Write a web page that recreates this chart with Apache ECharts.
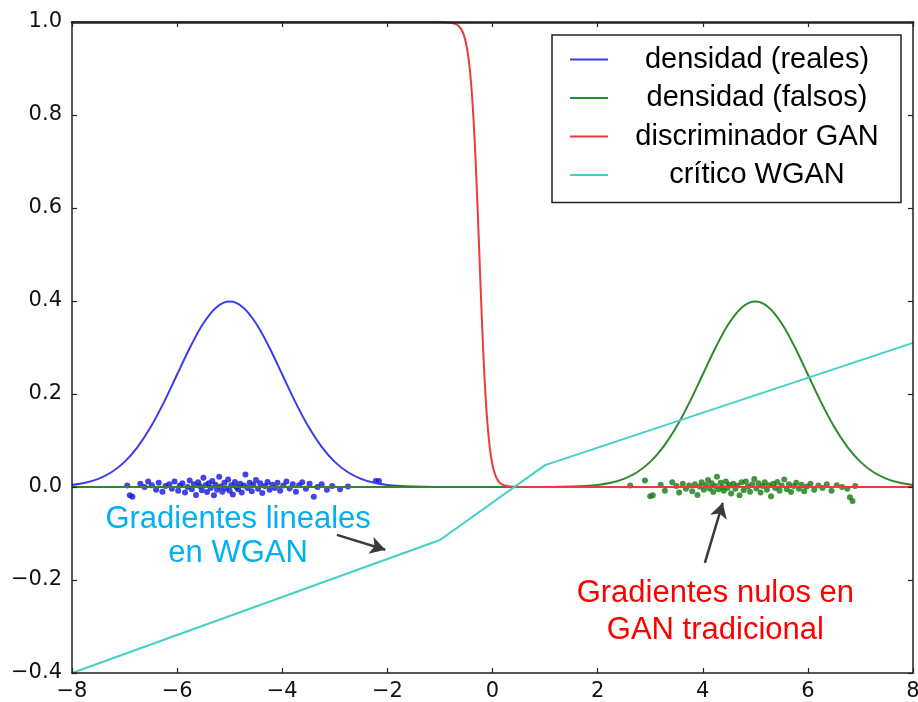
<!DOCTYPE html>
<html>
<head>
<meta charset="utf-8">
<title>GAN vs WGAN</title>
<script src="https://cdn.jsdelivr.net/npm/echarts@6/dist/echarts.min.js"></script>
<style>
  html, body { margin: 0; padding: 0; background: #fff; }
  #chart { width: 918px; height: 702px; }
</style>
</head>
<body>
<div id="chart"></div>
<script>
// ---------------------------------------------------------------------------
// Data
// ---------------------------------------------------------------------------

const seriesNames = ['densidad (reales)', 'densidad (falsos)', 'discriminador GAN', 'crítico WGAN'];

// Density of the real samples (bell centred at -5)
const realDensity = [
  [-8, 0.0044], [-7.75, 0.0091], [-7.5, 0.0175], [-7.25, 0.0317], [-7, 0.054],
  [-6.75, 0.0863], [-6.5, 0.1295], [-6.25, 0.1826], [-6, 0.242], [-5.75, 0.3011],
  [-5.5, 0.3521], [-5.25, 0.3867], [-5, 0.3989], [-4.75, 0.3867], [-4.5, 0.3521],
  [-4.25, 0.3011], [-4, 0.242], [-3.75, 0.1826], [-3.5, 0.1295], [-3.25, 0.0863],
  [-3, 0.054], [-2.75, 0.0317], [-2.5, 0.0175], [-2.25, 0.0091], [-2, 0.0044],
  [-1.75, 0.002], [-1.5, 0.0009], [-1.25, 0.0004], [-1, 0.0001], [-0.75, 0],
  [-0.5, 0], [0, 0], [1, 0], [2, 0], [4, 0], [6, 0], [8, 0]
];

// Density of the fake samples (bell centred at +5)
const fakeDensity = [
  [-8, 0], [-6, 0], [-4, 0], [-2, 0], [-1, 0], [0, 0], [0.5, 0], [0.75, 0],
  [1, 0.0001], [1.25, 0.0004], [1.5, 0.0009], [1.75, 0.002],
  [2, 0.0044], [2.25, 0.0091], [2.5, 0.0175], [2.75, 0.0317], [3, 0.054],
  [3.25, 0.0863], [3.5, 0.1295], [3.75, 0.1826], [4, 0.242], [4.25, 0.3011],
  [4.5, 0.3521], [4.75, 0.3867], [5, 0.3989], [5.25, 0.3867], [5.5, 0.3521],
  [5.75, 0.3011], [6, 0.242], [6.25, 0.1826], [6.5, 0.1295], [6.75, 0.0863],
  [7, 0.054], [7.25, 0.0317], [7.5, 0.0175], [7.75, 0.0091], [8, 0.0044]
];

// GAN discriminator output (steep drop near x = -0.25)
const ganDiscriminator = [
  [-8, 1], [-6, 1], [-4, 1], [-2, 1], [-1.5, 1], [-1, 0.9999], [-0.9, 0.9996],
  [-0.8, 0.9986], [-0.7, 0.9955], [-0.65, 0.9918], [-0.6, 0.9852], [-0.55, 0.9734],
  [-0.5, 0.9526], [-0.45, 0.9168], [-0.4, 0.8581], [-0.35, 0.7685], [-0.3, 0.6457],
  [-0.25, 0.5], [-0.2, 0.3543], [-0.15, 0.2315], [-0.1, 0.1419], [-0.05, 0.0832],
  [0, 0.0474], [0.05, 0.0266], [0.1, 0.0148], [0.15, 0.0082], [0.2, 0.0045],
  [0.3, 0.0014], [0.4, 0.0004], [0.5, 0.0001], [0.75, 0], [1, 0], [2, 0],
  [4, 0], [6, 0], [8, 0]
];

// WGAN critic (piecewise linear)
const wganCritic = [[-8, -0.4], [-1, -0.114], [1, 0.047], [8, 0.31]];

// Sample points scattered around y = 0
const realSamples = [
  [-6.95, 0.003], [-6.9, -0.018], [-6.85, -0.021], [-6.7, 0.007], [-6.62, 0.0],
  [-6.55, 0.012], [-6.48, 0.004], [-6.4, -0.006], [-6.35, 0.009], [-6.28, -0.01],
  [-6.22, 0.002], [-6.15, 0.006], [-6.1, -0.004], [-6.05, 0.012], [-5.98, -0.008],
  [-5.95, 0.003], [-5.9, 0.008], [-5.85, -0.012], [-5.8, 0.0], [-5.76, 0.014],
  [-5.72, -0.005], [-5.68, 0.006], [-5.64, -0.017], [-5.6, 0.01], [-5.57, 0.002],
  [-5.53, -0.007], [-5.5, 0.02], [-5.46, 0.004], [-5.43, -0.011], [-5.4, 0.008],
  [-5.36, -0.002], [-5.33, 0.013], [-5.3, -0.018], [-5.27, 0.005], [-5.24, -0.006],
  [-5.2, 0.022], [-5.17, 0.001], [-5.14, -0.01], [-5.1, 0.009], [-5.07, -0.003],
  [-5.03, 0.016], [-5.0, -0.008], [-4.97, 0.004], [-4.94, -0.016], [-4.9, 0.011],
  [-4.87, 0.0], [-4.84, -0.005], [-4.8, 0.007], [-4.77, -0.012], [-4.73, 0.003],
  [-4.7, 0.027], [-4.66, -0.002], [-4.62, 0.009], [-4.58, -0.009], [-4.55, 0.005],
  [-4.5, 0.015], [-4.46, -0.004], [-4.42, 0.008], [-4.38, -0.013], [-4.33, 0.002],
  [-4.28, 0.011], [-4.24, -0.006], [-4.19, 0.005], [-4.14, -0.002], [-4.09, 0.009],
  [-4.04, -0.008], [-3.98, 0.003], [-3.92, 0.012], [-3.86, -0.003], [-3.8, 0.006],
  [-3.74, -0.01], [-3.68, 0.004], [-3.62, 0.01], [-3.55, -0.004], [-3.48, 0.007],
  [-3.4, -0.021], [-3.33, 0.0], [-3.25, 0.006], [-3.15, -0.006], [-3.05, 0.002],
  [-2.9, -0.005], [-2.75, 0.001], [-2.22, 0.013], [-2.16, 0.013]
];

const fakeSamples = [
  [2.62, 0.003], [2.9, 0.014], [3.0, -0.02], [3.05, -0.018], [3.2, 0.005],
  [3.28, -0.008], [3.42, 0.01], [3.5, 0.002], [3.55, -0.012], [3.62, 0.007],
  [3.68, -0.004], [3.74, 0.003], [3.8, -0.009], [3.85, 0.006], [3.9, -0.017],
  [3.94, 0.001], [3.98, 0.01], [4.02, -0.006], [4.06, 0.004], [4.1, 0.015],
  [4.13, -0.003], [4.17, 0.008], [4.2, -0.011], [4.24, 0.002], [4.27, 0.022],
  [4.3, -0.005], [4.34, 0.009], [4.37, 0.0], [4.4, -0.008], [4.44, 0.012],
  [4.47, -0.002], [4.5, 0.005], [4.54, -0.014], [4.58, 0.007], [4.62, -0.004],
  [4.66, 0.003], [4.7, -0.018], [4.74, 0.01], [4.78, -0.007], [4.82, 0.012],
  [4.86, 0.001], [4.9, -0.01], [4.94, 0.006], [4.98, 0.017], [5.02, -0.003],
  [5.06, 0.008], [5.1, -0.012], [5.14, 0.002], [5.18, 0.01], [5.22, -0.006],
  [5.26, 0.004], [5.3, -0.02], [5.34, 0.007], [5.38, -0.002], [5.42, 0.011],
  [5.46, -0.008], [5.5, 0.003], [5.55, 0.016], [5.6, -0.005], [5.64, 0.006],
  [5.68, -0.011], [5.73, 0.002], [5.78, 0.009], [5.83, -0.004], [5.88, 0.005],
  [5.93, -0.009], [5.98, 0.001], [6.05, 0.007], [6.12, -0.006], [6.2, 0.003],
  [6.28, -0.002], [6.36, 0.006], [6.45, -0.008], [6.55, 0.004], [6.65, 0.0],
  [6.75, -0.004], [6.8, -0.022], [6.85, -0.03], [6.9, 0.002]
];

// Annotation texts and arrows (data coordinates)
const noteLinear = { text: 'Gradientes lineales\nen WGAN', at: [-4.84, -0.1065] };
const noteVanish = { text: 'Gradientes nulos en\nGAN tradicional', at: [4.24, -0.268] };
const arrowLinear = [[-2.96, -0.103], [-2.04, -0.135]];
const arrowVanish = [[4.04, -0.163], [4.38, -0.034]];

// ---------------------------------------------------------------------------
// Styling
// ---------------------------------------------------------------------------
const COLORS = {
  real: '#3c3cf0',
  fake: '#2b8a2b',
  gan: '#f03a3a',
  wgan: '#45d0c6',
  realDot: '#1414e0',
  fakeDot: '#117d11',
  axis: '#222',
  arrow: '#3a3a3a',
  noteCyan: '#00b0f0',
  noteRed: '#ff0000'
};

const minus = v => (v < 0 ? '\u2212' : '') + Math.abs(v);

const tickFont = { fontFamily: 'DejaVu Sans', fontSize: 21, color: '#111' };

function axisBase(extra, lineWidth) {
  return Object.assign({
    type: 'value',
    axisLine: { show: true, onZero: false, lineStyle: { color: COLORS.axis, width: lineWidth || 1.5 } },
    axisTick: { show: true, inside: true, length: 5, lineStyle: { color: COLORS.axis, width: 1.2 } },
    splitLine: { show: false },
    z: 10
  }, extra);
}

const chart = echarts.init(document.getElementById('chart'));

// Shared look of the smooth curves
function curve(name, data, color) {
  return {
    name: name,
    type: 'line',
    data: data,
    smooth: 0.35,
    showSymbol: false,
    lineStyle: { color: color, width: 2 },
    itemStyle: { color: color },
    z: 3
  };
}

const option = {
  animation: false,
  backgroundColor: '#fff',
  grid: { left: 72, top: 22, right: 5, bottom: 29, containLabel: false, outerBoundsMode: 'none' },
  legend: {
    data: seriesNames,
    orient: 'vertical',
    left: 552,
    top: 35,
    padding: [10, 0, 13, 18],
    itemWidth: 38,
    itemHeight: 14,
    itemGap: 9.5,
    icon: 'path://M0,6L38,6L38,8L0,8Z',
    borderColor: '#222',
    borderWidth: 1.5,
    backgroundColor: '#fff',
    formatter: name => '{c|' + name + '}',
    textStyle: {
      rich: {
        c: { width: 288, align: 'center', fontFamily: 'Liberation Sans', fontSize: 29, lineHeight: 29, color: '#000' }
      }
    },
    z: 20
  },
  xAxis: [
    axisBase({
      min: -8, max: 8, interval: 2, position: 'bottom',
      axisLabel: Object.assign({ margin: 8, formatter: minus }, tickFont)
    }),
    // top spine is a bit thicker so it hides the discriminator sitting at 1.0
    axisBase({
      min: -8, max: 8, interval: 2, position: 'top',
      axisLabel: { show: false }
    }, 2.6)
  ],
  yAxis: [
    axisBase({
      min: -0.4, max: 1.0, interval: 0.2, position: 'left',
      axisLabel: Object.assign({ margin: 10, formatter: v => (v < 0 ? '\u2212' : '') + Math.abs(v).toFixed(1) }, tickFont)
    }),
    axisBase({
      min: -0.4, max: 1.0, interval: 0.2, position: 'right',
      axisLabel: { show: false }
    })
  ],
  series: [
    {
      name: 'muestras reales',
      type: 'scatter',
      data: realSamples,
      symbolSize: 6,
      itemStyle: { color: COLORS.realDot },
      z: 2
    },
    {
      name: 'muestras falsas',
      type: 'scatter',
      data: fakeSamples,
      symbolSize: 6,
      itemStyle: { color: COLORS.fakeDot },
      z: 2
    },
    curve(seriesNames[0], realDensity, COLORS.real),
    curve(seriesNames[1], fakeDensity, COLORS.fake),
    curve(seriesNames[2], ganDiscriminator, COLORS.gan),
    {
      name: seriesNames[3],
      type: 'line',
      data: wganCritic,
      showSymbol: false,
      lineStyle: { color: COLORS.wgan, width: 2 },
      itemStyle: { color: COLORS.wgan },
      z: 3,
      // Arrows that point at the two gradient regions
      markLine: {
        silent: true,
        symbol: ['none', 'arrow'],
        symbolSize: [13, 15],
        label: { show: false },
        lineStyle: { color: COLORS.arrow, width: 2.5, type: 'solid' },
        data: [
          [{ coord: arrowLinear[0] }, { coord: arrowLinear[1] }],
          [{ coord: arrowVanish[0] }, { coord: arrowVanish[1] }]
        ]
      }
    }
  ]
};

chart.setOption(option);

// Annotation texts placed through the chart's own coordinate system
function noteGraphic(note, color, lineHeight) {
  const p = chart.convertToPixel({ gridIndex: 0 }, note.at);
  return {
    type: 'text',
    x: p[0],
    y: p[1],
    z: 30,
    style: {
      text: note.text,
      fill: color,
      font: '31px "Liberation Sans", Arial, sans-serif',
      lineHeight: lineHeight,
      align: 'center',
      verticalAlign: 'middle'
    }
  };
}

chart.setOption({
  graphic: [
    noteGraphic(noteLinear, COLORS.noteCyan, 34),
    noteGraphic(noteVanish, COLORS.noteRed, 37)
  ]
});
</script>
</body>
</html>
